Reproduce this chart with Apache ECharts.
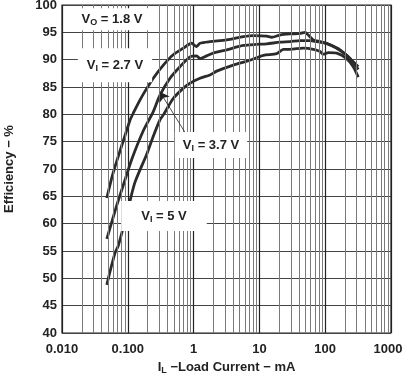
<!DOCTYPE html>
<html><head><meta charset="utf-8">
<script src="https://cdn.jsdelivr.net/npm/echarts@6/dist/echarts.min.js"></script>
<style>html,body{margin:0;padding:0;background:#fff}#c{width:403px;height:374px}</style>
</head><body><div id="c"></div>
<script>
// ---- data (load current in mA, efficiency in %) ----
const xTickLabels = ['0.010', '0.100', '1', '10', '100', '1000'];
const yTicks = [40, 45, 50, 55, 60, 65, 70, 75, 80, 85, 90, 95, 100];

const current27 = [0.048, 0.058, 0.072, 0.09, 0.107, 0.121, 0.15, 0.172, 0.244, 0.347, 0.49, 0.70, 0.93, 1.11, 1.25, 1.77, 3.18, 5.69, 8.07, 12.9, 15.4, 20.5, 29.2, 41.4, 49.3, 55.4, 66, 83.4, 105, 150, 212, 267, 318];
const eff27     = [64.7, 68.7, 72.4, 76.0, 78.8, 80.2, 82.4, 83.7, 86.6, 89.0, 90.9, 92.1, 93.0, 92.4, 93.0, 93.3, 93.6, 94.2, 94.4, 94.3, 94.1, 94.5, 94.7, 94.8, 95.0, 94.5, 93.6, 93.3, 93.0, 92.1, 90.8, 89.6, 88.7];

const current37 = [0.048, 0.0677, 0.0906, 0.115, 0.172, 0.244, 0.308, 0.438, 0.62, 0.88, 1.11, 1.25, 1.58, 1.99, 3.18, 5.69, 9.0, 12.9, 20.5, 29.2, 41.4, 58.8, 74.3, 93.6, 118, 168, 238, 318];
const eff37     = [57.2, 63.3, 68.0, 71.8, 77.0, 80.5, 83.5, 86.6, 88.7, 90.5, 90.7, 90.2, 90.7, 91.2, 91.8, 92.6, 92.8, 92.9, 93.2, 93.3, 93.5, 93.5, 93.3, 93.1, 92.7, 91.8, 90.2, 88.2];

const current5  = [0.048, 0.0506, 0.0638, 0.0718, 0.1, 0.128, 0.194, 0.244, 0.308, 0.347, 0.49, 0.70, 0.88, 1.25, 1.77, 2.24, 4.01, 7.19, 11.5, 18.3, 23.1, 29.2, 46.5, 66, 83.4, 93.6, 112, 150, 212, 267, 318];
const eff5      = [48.8, 50.0, 54.6, 56.0, 62.5, 67.5, 72.7, 76.0, 79.0, 79.9, 82.9, 84.8, 85.7, 86.6, 87.2, 87.9, 89.0, 89.9, 90.8, 91.1, 91.9, 91.9, 92.1, 91.9, 91.5, 91.0, 91.3, 91.2, 90.2, 88.7, 86.8];

const decades = [0.01, 0.1, 1, 10, 100];
const minorMultipliers = [2, 3, 4, 5, 6, 7, 8, 9];

// ---- chart ----
const FONT = '"Liberation Sans", Arial, Helvetica, sans-serif';
const INK = '#222';
const zip = (xs, ys) => xs.map((x, i) => [x, ys[i]]);
const minorValues = [];
decades.forEach(d => minorMultipliers.forEach(m => minorValues.push(d * m)));

const rich = {
  b: { fontSize: 13, fontWeight: 'bold', color: INK, fontFamily: FONT, lineHeight: 16 },
  s: { fontSize: 9, fontWeight: 'bold', color: INK, fontFamily: FONT, lineHeight: 8, verticalAlign: 'bottom' }
};
const tickRich = {
  t: { fontSize: 13, fontWeight: 'bold', color: INK, fontFamily: FONT },
  r: { fontSize: 13, fontWeight: 'bold', color: INK, fontFamily: FONT, padding: [0, 6, 0, 0] }
};

function note(coord, sub, rest, pad) {
  return {
    coord: coord,
    symbolSize: 0,
    label: {
      show: true, position: 'inside',
      formatter: '{b|V}{s|' + sub + '}{b|' + rest + '}',
      backgroundColor: '#fff', padding: pad, rich: rich
    }
  };
}

const curveStyle = { color: '#2b2b2b', width: 2.8 };
function curve(name, xs, ys) {
  return {
    name: name, type: 'line', data: zip(xs, ys), symbol: 'none', smooth: 0.25,
    lineStyle: curveStyle, itemStyle: { color: '#2b2b2b' }, z: 3, silent: true, animation: false
  };
}

const chart = echarts.init(document.getElementById('c'), null, { renderer: 'canvas' });
chart.setOption({
  animation: false,
  backgroundColor: '#fff',
  grid: { left: 62, right: 12, top: 5, bottom: 41, containLabel: false, outerBoundsMode: 'none',
          show: true, borderColor: INK, borderWidth: 1.2, backgroundColor: 'transparent' },
  xAxis: {
    type: 'log', logBase: 10, min: 0.01, max: 1000,
    axisLine: { show: false },
    axisTick: { show: false },
    splitLine: { show: true, lineStyle: { color: INK, width: 1.2 } },
    axisLabel: {
      margin: 10, rich: tickRich,
      formatter: v => {
        const i = Math.round(Math.log10(v)) + 2;
        return (i === xTickLabels.length - 1 ? '{r|' : '{t|') + xTickLabels[i] + '}';
      }
    },
    name: '{b|I}{s|L}{b| −Load Current − mA}',
    nameLocation: 'middle', nameGap: 25,
    nameTextStyle: { rich: rich }
  },
  yAxis: {
    type: 'value', min: yTicks[0], max: yTicks[yTicks.length - 1], interval: 5,
    axisLine: { show: false },
    axisTick: { show: false },
    splitLine: { show: true, lineStyle: { color: '#444', width: 1 } },
    axisLabel: { margin: 5, fontSize: 13, fontWeight: 'bold', color: INK, fontFamily: FONT },
    name: 'Efficiency − %', nameLocation: 'middle', nameGap: 46, nameRotate: 90,
    nameTextStyle: { fontSize: 13, fontWeight: 'bold', color: INK, fontFamily: FONT }
  },
  series: [
    {
      name: 'minor', type: 'line', data: [], z: 1, silent: true,
      markLine: {
        silent: true, symbol: 'none', label: { show: false }, animation: false,
        lineStyle: { color: '#7a7a7a', width: 1, type: 'solid' },
        data: minorValues.map(v => ({ xAxis: v }))
      }
    },
    curve('VI = 2.7 V', current27, eff27),
    curve('VI = 3.7 V', current37, eff37),
    curve('VI = 5 V', current5, eff5),
    {
      name: 'notes', type: 'line', data: [], z: 5, silent: true,
      markPoint: {
        silent: true, animation: false,
        data: [
          note([0.0575, 97.4], 'O', ' = 1.8 V', [3, 14, 3, 14]),
          note([0.0638, 89.0], 'I', ' = 2.7 V', [9, 9, 9, 9]),
          note([1.84, 74.4], 'I', ' = 3.7 V', [5, 8, 5, 8]),
          note([0.355, 61.4], 'I', ' = 5 V', [7, 20, 7, 20])
        ]
      }
    },
    {
      name: 'pointer', type: 'line', data: [], z: 6, silent: true,
      markLine: {
        silent: true, animation: false, label: { show: false },
        symbol: ['none', 'arrow'], symbolSize: 9,
        lineStyle: { color: INK, width: 0.8, type: 'solid' },
        data: [[{ coord: [0.785, 76.2] }, { coord: [0.308, 84.1] }]]
      }
    }
  ]
});
</script>
</body></html>
